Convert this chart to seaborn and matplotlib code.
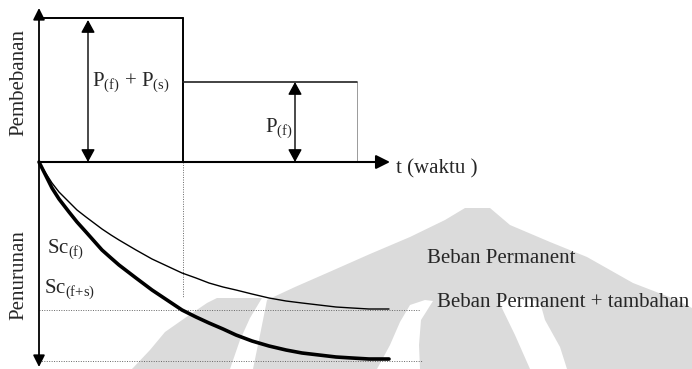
import numpy as np
import pandas as pd
import matplotlib
matplotlib.use("Agg")
import matplotlib.pyplot as plt
import seaborn as sns

# ---------------- data (diagram units: time along t-axis, load up / settlement down) ----------------
load_times = [0, 144, 318]          # start, removal of surcharge, end of plotted load
load_total = 144                    # P(f) + P(s)
load_perm = 80                      # P(f)

t_curve = [0, 6, 13, 20, 30, 38, 47, 55, 63, 72, 80, 97, 113, 128, 143, 157, 170, 184, 197,
           213, 230, 247, 263, 280, 297, 313, 330, 350]
sc_f = [0, -10, -21, -30, -40, -48, -55, -61, -67, -73, -78, -88, -97, -104, -111, -116, -121,
        -125, -128, -132, -136, -139, -141, -143, -145, -146, -147, -147]
sc_fs = [0, -12, -26, -37, -50, -60, -70, -79, -88, -96, -103, -116, -128, -138, -148, -155,
         -161, -167, -173, -179, -184, -188, -191, -193, -195, -196, -197, -197]

labels = {
    "load_axis": "Pembebanan",
    "settle_axis": "Penurunan",
    "time_axis": "t (waktu )",
    "total": r"P$_{\mathrm{(f)}}$ + P$_{\mathrm{(s)}}$",
    "perm": r"P$_{\mathrm{(f)}}$",
    "sc_f": r"Sc$_{\mathrm{(f)}}$",
    "sc_fs": r"Sc$_{\mathrm{(f{+}s)}}$",
    "curve_f": "Beban Permanent",
    "curve_fs": "Beban Permanent + tambahan",
}

# ---------------- style ----------------
sns.set_theme(style="white")
plt.rcParams["font.family"] = ["Liberation Serif", "DejaVu Serif"]
plt.rcParams["mathtext.fontset"] = "custom"
plt.rcParams["mathtext.rm"] = "Liberation Serif"
plt.rcParams["mathtext.it"] = "Liberation Serif:italic"
plt.rcParams["mathtext.bf"] = "Liberation Serif:bold"

fig = plt.figure(figsize=(6.92, 3.69), dpi=100)
ax = fig.add_axes([0, 0, 1, 1])
ax.set_xlim(-39, 653)
ax.set_ylim(-207, 162)
ax.axis("off")

# ---------------- faint background watermark (decoration, pixel outline) ----------------
def px(pts):
    return [p[0] - 39 for p in pts], [162 - p[1] for p in pts]

wm_gray = "#dbdbdb"
main_body = [(253, 369), (260, 335), (267, 300), (295, 287), (327, 273), (370, 254), (410, 237),
             (445, 220), (465, 208), (490, 208), (510, 225), (550, 242), (587, 257), (633, 283),
             (677, 300), (692, 308), (692, 369)]
left_piece = [(132, 369), (150, 350), (165, 332), (185, 318), (207, 303), (217, 298), (262, 298),
              (250, 318), (240, 340), (230, 369)]
white_a = [(377, 369), (390, 345), (400, 322), (410, 305), (425, 300), (433, 301), (421, 320),
           (419, 345), (420, 369)]
white_b = [(498, 300), (520, 297), (540, 302), (545, 320), (560, 347), (567, 369), (530, 369),
           (515, 335)]
for poly, col in [(main_body, wm_gray), (left_piece, wm_gray), (white_a, "white"), (white_b, "white")]:
    xs, ys = px(poly)
    ax.fill(xs, ys, color=col, lw=0, zorder=0)

# ---------------- axes arrows ----------------
ax.annotate("", xy=(0, 154), xytext=(0, -205),
            arrowprops=dict(arrowstyle="<|-|>,head_length=0.5,head_width=0.25", mutation_scale=14,
                            color="black", lw=1.3, shrinkA=0, shrinkB=0), zorder=3)
ax.annotate("", xy=(351, 0), xytext=(0, 0),
            arrowprops=dict(arrowstyle="-|>,head_length=0.6,head_width=0.3", mutation_scale=14,
                            color="black", lw=1.5, shrinkA=0, shrinkB=0), zorder=3)

# ---------------- loading diagram ----------------
t0, t1, t2 = load_times
ax.plot([t0, t1], [load_total, load_total], color="black", lw=1.4, zorder=3)
ax.plot([t1, t1], [load_total, 0], color="black", lw=1.4, zorder=3)
ax.plot([t1, t2], [load_perm, load_perm], color="#222222", lw=1.2, zorder=3)
ax.plot([t2, t2], [load_perm, 0], color="#9a9a9a", lw=0.7, zorder=2)

arrow_dbl = dict(arrowstyle="<|-|>,head_length=0.55,head_width=0.3", mutation_scale=14,
                 color="black", lw=1.0, shrinkA=0, shrinkB=0)
ax.annotate("", xy=(49, load_total - 2), xytext=(49, 0), arrowprops=arrow_dbl, zorder=3)
ax.annotate("", xy=(256, load_perm), xytext=(256, 0), arrowprops=arrow_dbl, zorder=3)

# ---------------- settlement curves ----------------
sns.lineplot(x=t_curve, y=sc_f, ax=ax, color="black", linewidth=1.0, sort=False,
             estimator=None, zorder=3)
sns.lineplot(x=t_curve, y=sc_fs, ax=ax, color="black", linewidth=2.6, sort=False,
             estimator=None, zorder=3)

# guide lines
ax.plot([t1, t1], [0, -135], color="#666666", lw=0.7, ls=(0, (1, 1.5)), zorder=2)
ax.plot([0, 381], [sc_f[-1] - 1, sc_f[-1] - 1], color="#666666", lw=0.7, ls=(0, (1, 1.5)), zorder=2)
ax.plot([0, 384], [sc_fs[-1] - 2, sc_fs[-1] - 2], color="#666666", lw=0.7, ls=(0, (1, 1.5)), zorder=2)

# ---------------- text ----------------
fs = 15
ax.text(-20, 80, labels["load_axis"], rotation=90, ha="center", va="center", fontsize=fs)
ax.text(-20, -113, labels["settle_axis"], rotation=90, ha="center", va="center", fontsize=fs)
ax.text(53, 76, labels["total"], ha="left", va="baseline", fontsize=fs)
ax.text(254, 30, labels["perm"], ha="right", va="baseline", fontsize=fs)
ax.text(357, -11, labels["time_axis"], ha="left", va="baseline", fontsize=fs)
ax.text(8, -91, labels["sc_f"], ha="left", va="baseline", fontsize=fs)
ax.text(5, -131, labels["sc_fs"], ha="left", va="baseline", fontsize=fs)
ax.text(388, -101, labels["curve_f"], ha="left", va="baseline", fontsize=fs)
ax.text(398, -145, labels["curve_fs"], ha="left", va="baseline", fontsize=fs)

fig.savefig("out.png", dpi=100, facecolor="white")
